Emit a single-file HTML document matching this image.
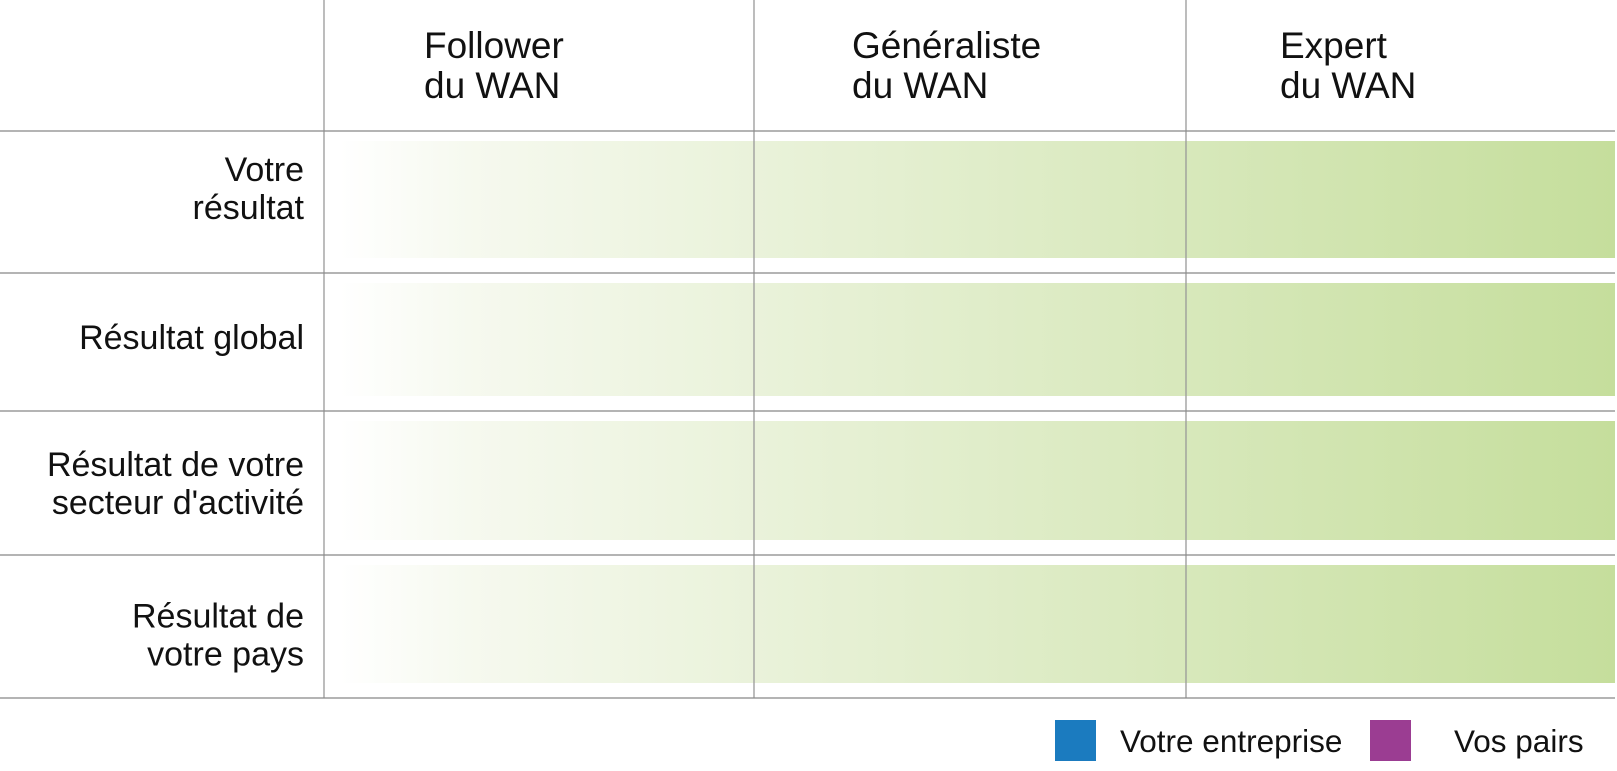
<!DOCTYPE html>
<html><head><meta charset="utf-8"><style>
body{margin:0;background:#fff;width:1617px;height:766px;overflow:hidden;font-family:"Liberation Sans",sans-serif;}
svg text{font-family:"Liberation Sans",sans-serif;fill:#111;}
</style></head><body>
<svg id="c" width="1617" height="766">
<defs><linearGradient id="g" x1="340" x2="1615" gradientUnits="userSpaceOnUse">
<stop offset="0" stop-color="#ffffff"/><stop offset="0.1" stop-color="#f6f9ef"/><stop offset="1" stop-color="#c5de9c"/></linearGradient></defs>
</svg>
<script>
const columns=[["Follower","du WAN"],["Généraliste","du WAN"],["Expert","du WAN"]];
const rows=[["Votre","résultat"],["Résultat global"],["Résultat de votre","secteur d'activité"],["Résultat de","votre pays"]];
const legendLabels=["Votre entreprise","Vos pairs"];
const legendColors=["#1b7bbf","#9b3d92"];
const svg=document.getElementById('c');const NS="http://www.w3.org/2000/svg";
function mk(t,a,p){const e=document.createElementNS(NS,t);for(const k in a)e.setAttribute(k,a[k]);(p||svg).appendChild(e);return e;}
const colX=[324,754,1186],rowY=[131,273,411,555,698],hdrOff=[100,98,94],lblShift=[-14,-5,0,8];
rows.forEach((r,i)=>{const y0=rowY[i]+10,y1=rowY[i+1]-15;
const b=mk('rect',{x:340,y:y0,width:1275,height:y1-y0,fill:'url(#g)'});


const g=mk('g',{});


const cy=(rowY[i]+rowY[i+1])/2+lblShift[i], n=r.length;
r.forEach((l,j)=>{const t=mk('text',{x:304,y:cy+12+(j-(n-1)/2)*38,'text-anchor':'end','font-size':34},g);t.textContent=l;});
});
colX.forEach((x,i)=>{const l=mk('line',{x1:x,x2:x,y1:0,y2:698,stroke:'#999','stroke-width':1.3});

});
rowY.forEach((y,i)=>{const l=mk('line',{x1:0,x2:1615,y1:y,y2:y,stroke:'#888','stroke-width':1.3});

});
columns.forEach((c,i)=>{const g=mk('g',{});


c.forEach((l,j)=>{const t=mk('text',{x:colX[i]+hdrOff[i],y:58+j*40,'font-size':37},g);t.textContent=l;});});
const lx=[1055,1370];
legendLabels.forEach((l,i)=>{const g=mk('g',{});


mk('rect',{x:lx[i],y:720,width:41,height:41,fill:legendColors[i]},g);
const t=mk('text',{x:lx[i]+(i?84:65),y:752,'font-size':31.5},g);t.textContent=l;});
</script>
</body></html>
